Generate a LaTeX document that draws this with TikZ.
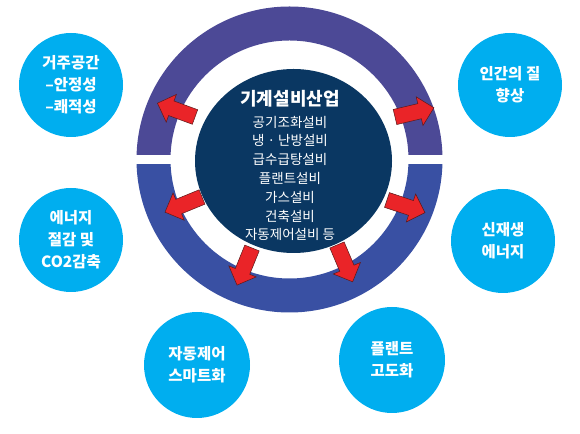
\documentclass[tikz,border=0pt]{standalone}
\usepackage{fontspec}
\newfontfamily\kr{Noto Sans CJK KR}
\usetikzlibrary{shapes.arrows,shapes.geometric}
\definecolor{topring}{RGB}{76,73,150}
\definecolor{botring}{RGB}{57,80,163}
\definecolor{navy}{RGB}{10,55,98}
\definecolor{skyc}{RGB}{0,174,239}
\definecolor{arrred}{RGB}{234,36,40}
\definecolor{arrline}{RGB}{90,25,25}
\tikzset{
  bubble/.style={circle, fill=skyc, minimum size=104pt, inner sep=0pt, text=white, align=center,
    font=\kr\bfseries\fontsize{15.5}{22}\selectfont},
  redarrow/.style={single arrow, fill=arrred, draw=arrline, line width=0.5pt,
    minimum height=40pt, minimum width=29pt, inner sep=7.5pt, single arrow head extend=7pt,
    anchor=tail, outer sep=0pt},
}
\begin{document}
\begin{tikzpicture}[x=1pt,y=1pt]
\useasboundingbox (0,0) rectangle (580,433);
% ring
\coordinate (c) at (289.5,273.5);
\begin{scope}
  \clip (0,278) rectangle (580,433);
  \fill[topring, even odd rule] (c) circle (153pt) (c) circle (119pt);
\end{scope}
\begin{scope}
  \clip (0,0) rectangle (580,268);
  \fill[botring, even odd rule] (c) circle (153pt) (c) circle (119pt);
\end{scope}
% core
\node[ellipse, fill=navy, minimum width=197pt, minimum height=184pt, inner sep=0pt] (core) at (293.5,272) {};
\node[text=white, font=\kr\bfseries\fontsize{18}{22}\selectfont] (title) at (290,334) {기계설비산업};
\node[text=white, align=center, font=\kr\fontsize{13.5}{18.8}\selectfont] (list) at (290,254.5)
  {공기조화설비\\냉 · 난방설비\\급수급탕설비\\플랜트설비\\가스설비\\건축설비\\자동제어설비 등};
% arrows
\node[redarrow, rotate=159.8] (a1) at (195,316) {};
\node[redarrow, rotate=13.3] (a2) at (395,316) {};
\node[redarrow, rotate=202.3] (a3) at (202,236) {};
\node[redarrow, rotate=-18.4] (a4) at (387,233) {};
\node[redarrow, rotate=-112] (a5) at (252,185) {};
\node[redarrow, rotate=-67] (a6) at (337,188) {};
% bubbles
\node[bubble] (b1) at (71,348) {거주공간\\–안정성\\–쾌적성};
\node[bubble] (b2) at (71,193) {에너지\\절감 및\\CO2감축};
\node[bubble] (b3) at (510,348) {인간의 질\\향상};
\node[bubble] (b4) at (503,192) {신재생\\에너지};
\node[bubble, minimum size=106pt] (b5) at (197,68) {자동제어\\스마트화};
\node[bubble, minimum size=106pt] (b6) at (392,73) {플랜트\\고도화};
\end{tikzpicture}
\end{document}
